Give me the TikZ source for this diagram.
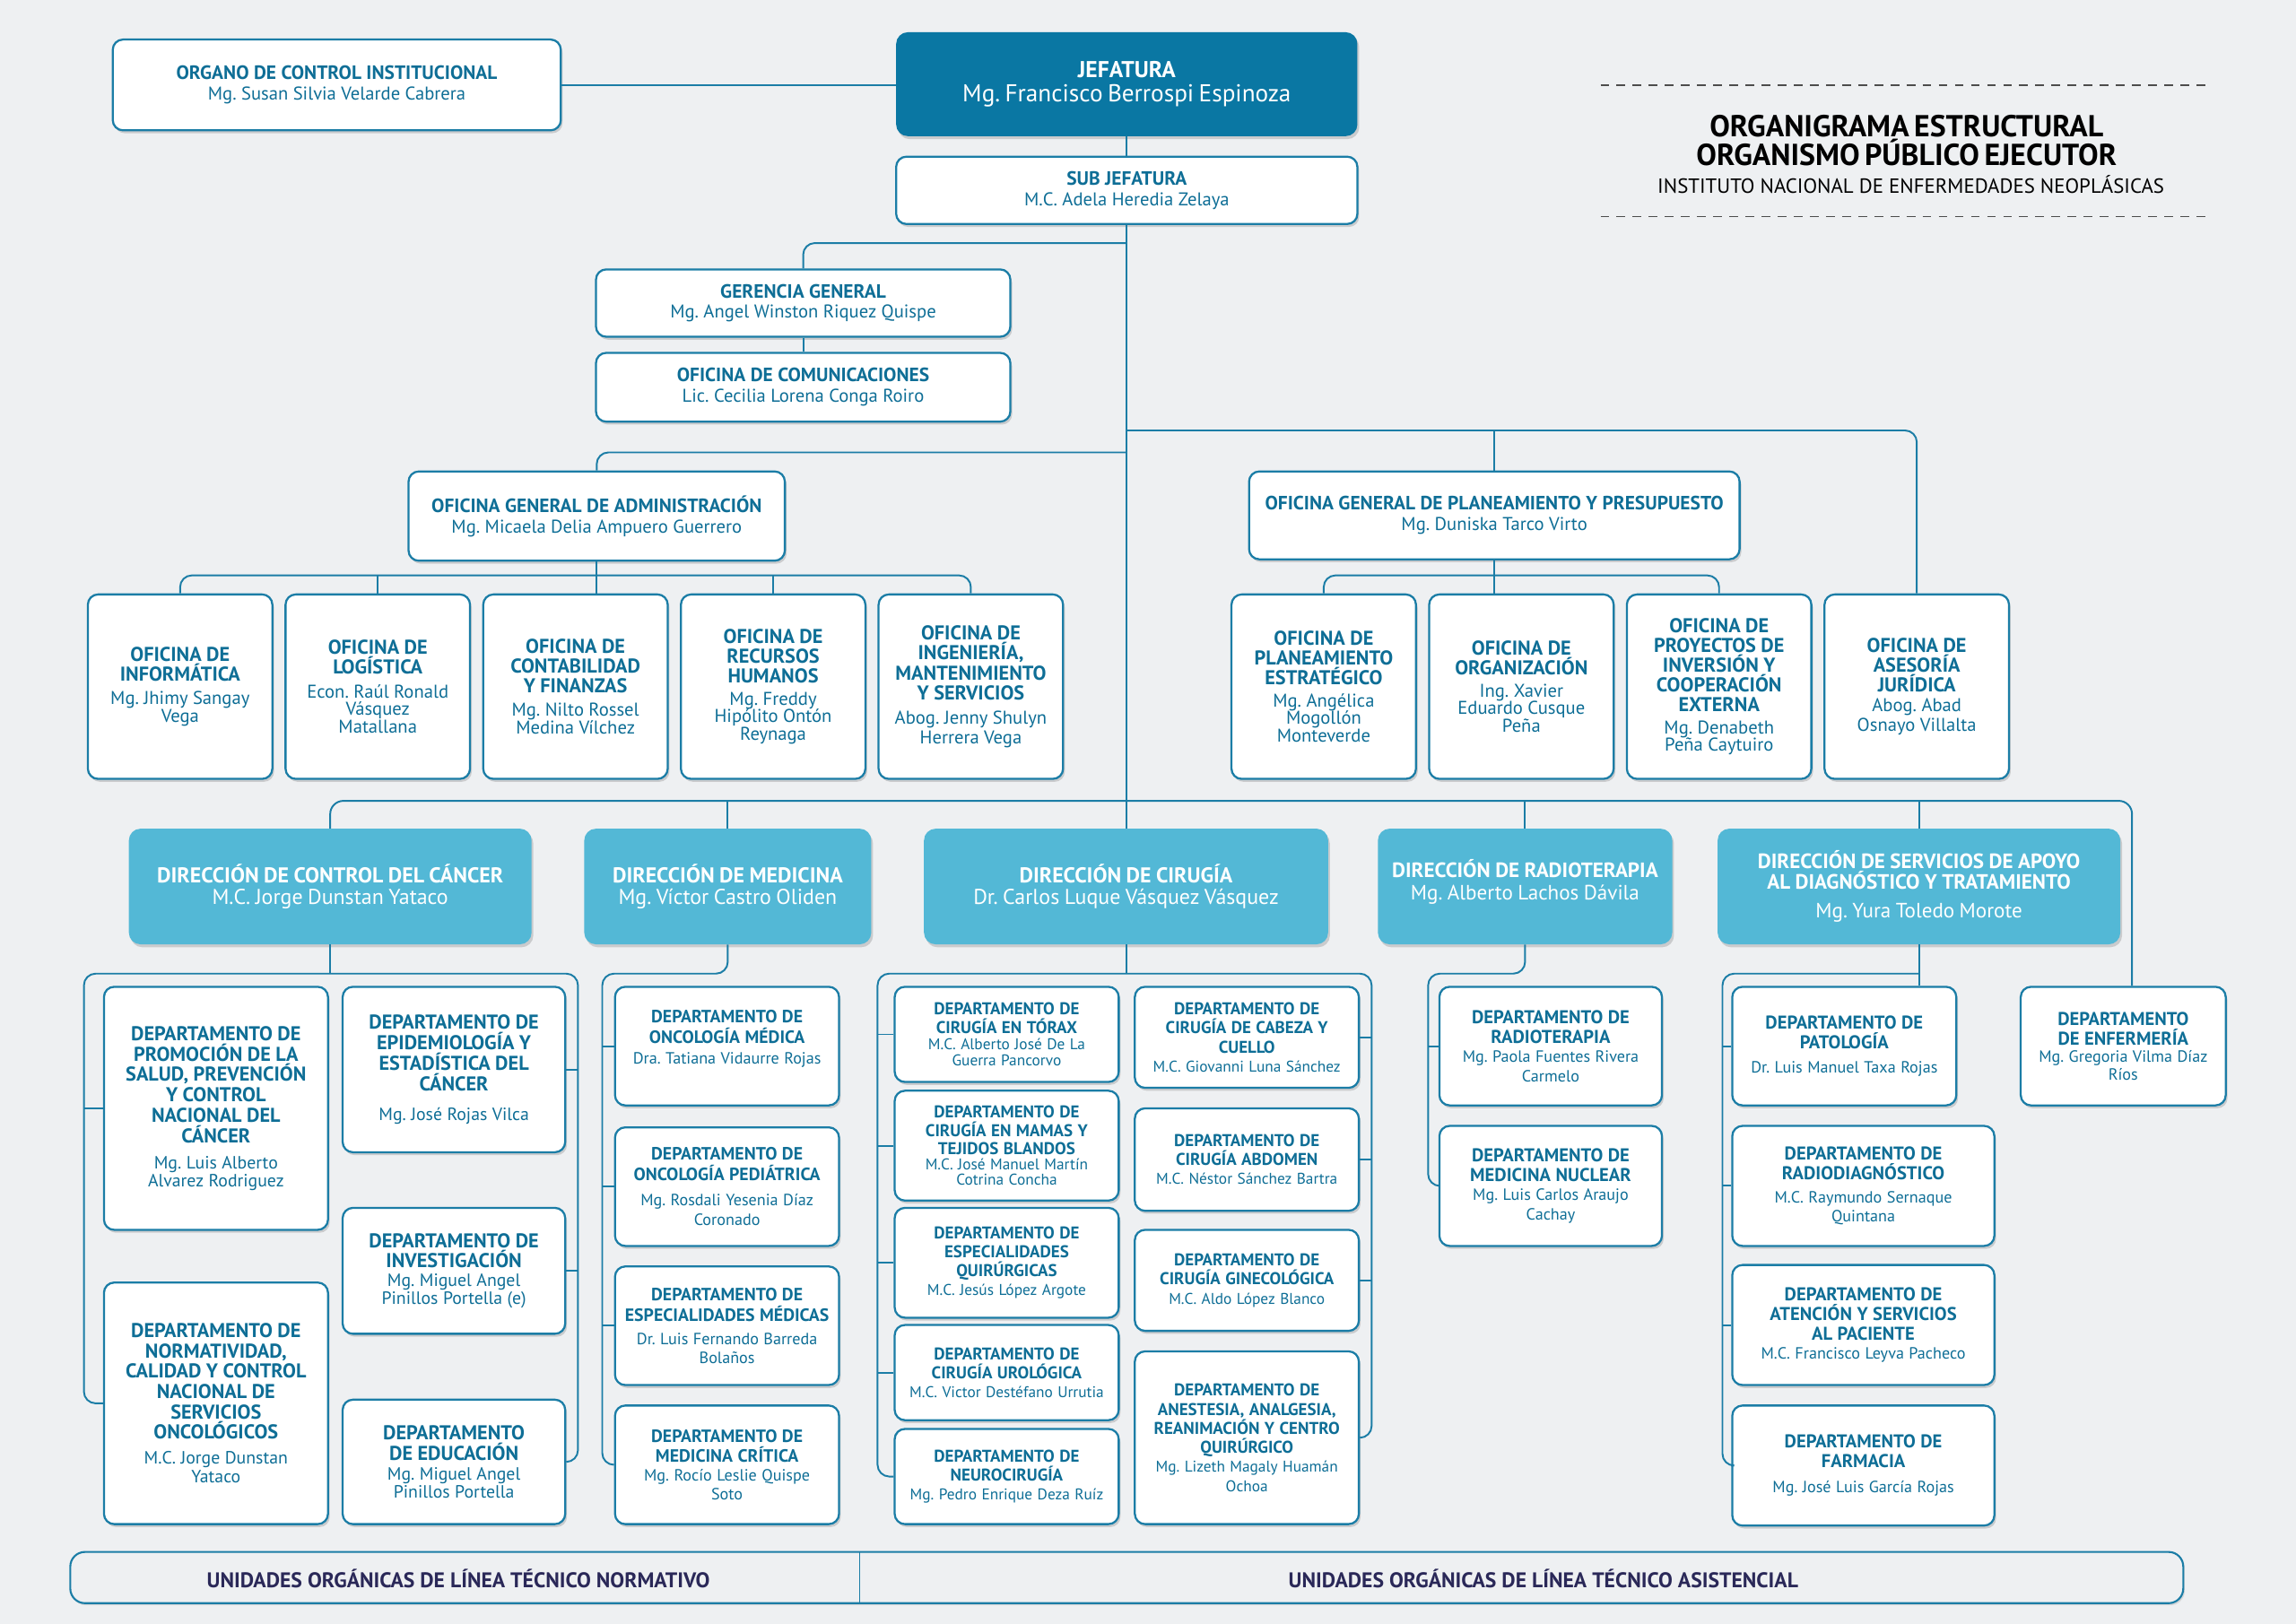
\documentclass[tikz,border=0pt]{standalone}
\usepackage{fontspec}
\setmainfont{PT Sans}
\usetikzlibrary{shadows,calc}
\definecolor{bline}{RGB}{27,125,166}
\definecolor{tblue}{RGB}{14,110,150}
\definecolor{jfill}{RGB}{10,119,163}
\definecolor{dfill}{RGB}{83,184,214}
\definecolor{bandtxt}{RGB}{42,40,88}
\definecolor{bgc}{RGB}{238,240,242}
\def\tsc{1.01}
\newcommand\Ttl[3]{{\pgfmathsetmacro\tmpS{#1*\tsc}\fontsize{\tmpS}{#2}\selectfont\bfseries #3\par}}
\newcommand\Nme[3]{{\pgfmathsetmacro\tmpS{#1*\tsc}\fontsize{\tmpS}{#2}\selectfont #3\par}}
\newcommand\orgbox[7]{%
 \pgfmathsetmacro\ubW{(#5)-(#3)}%
 \pgfmathsetmacro\ubH{(#6)-(#4)}%
 \pgfmathsetmacro\ubX{((#3)+(#5))/2}%
 \pgfmathsetmacro\ubY{((#4)+(#6))/2}%
 \pgfmathsetmacro\ubT{\ubW-6}%
 \node[#1, minimum width=\ubW pt, minimum height=\ubH pt, text width=\ubT pt] (#2) at (\ubX,\ubY) {#7};}
\tikzset{
 conn/.style={draw=bline,line width=1.2pt},
 shad/.style={drop shadow={shadow xshift=1.2pt,shadow yshift=-2pt,opacity=0.22,fill=black!70}},
 wbox/.style={draw=bline,line width=1.4pt,fill=white,rounded corners=7pt,shad,text=tblue,align=center,inner sep=0pt},
 dbox/.style={fill=dfill,rounded corners=8pt,shad,text=white,align=center,inner sep=0pt},
 jbox/.style={fill=jfill,rounded corners=8pt,shad,text=white,align=center,inner sep=0pt},
}
\frenchspacing
\begin{document}
\frenchspacing
\begin{tikzpicture}[x=1pt,y=-1pt]
\fill[bgc] (0,0) rectangle (1568,1109);
\useasboundingbox (0,0) rectangle (1568,1109);

% title block
\draw[dash pattern=on 6pt off 5pt,line width=1pt,black!70] (1093,58) -- (1510,58);
\draw[dash pattern=on 6pt off 5pt,line width=1pt,black!70] (1093,148) -- (1510,148);
\node[align=center,inner sep=0pt,text width=400pt] (ttl) at (1302,96) {\Ttl{20.5}{16.5}{ORGANIGRAMA ESTRUCTURAL\\ORGANISMO PÚBLICO EJECUTOR}};
\node[inner sep=0pt,font=\fontsize{14}{16}\selectfont] (inst) at (1305,126) {INSTITUTO NACIONAL DE ENFERMEDADES NEOPLÁSICAS};

% top
\orgbox{wbox}{organo}{77}{27}{383}{89}{\Ttl{13}{14}{ORGANO DE CONTROL INSTITUCIONAL}\Nme{12.5}{14}{Mg. Susan Silvia Velarde Cabrera}}
\orgbox{jbox}{jef}{612}{22}{927}{93}{\Ttl{15.5}{17}{JEFATURA}\Nme{16.5}{17}{Mg. Francisco Berrospi Espinoza}}
\orgbox{wbox}{sub}{612}{107}{927}{153}{\Ttl{13}{14}{SUB JEFATURA}\Nme{12.5}{14}{M.C. Adela Heredia Zelaya}}
\orgbox{wbox}{ger}{407}{184}{690}{230}{\Ttl{13}{14}{GERENCIA GENERAL}\Nme{12.5}{14}{Mg. Angel Winston Riquez Quispe}}
\orgbox{wbox}{com}{407}{241}{690}{288}{\Ttl{13}{14}{OFICINA DE COMUNICACIONES}\Nme{12.5}{14}{Lic. Cecilia Lorena Conga Roiro}}
\orgbox{wbox}{oga}{279}{322}{536}{383}{\Ttl{13}{14}{OFICINA GENERAL DE ADMINISTRACIÓN}\Nme{12.5}{14}{Mg. Micaela Delia Ampuero Guerrero}}
\orgbox{wbox}{ogpp}{853}{322}{1188}{382}{\Ttl{13}{14}{OFICINA GENERAL DE PLANEAMIENTO Y PRESUPUESTO}\Nme{12.5}{14}{Mg. Duniska Tarco Virto}}

% offices
\orgbox{wbox}{inf}{60}{406}{186}{532}{\Ttl{13.5}{13.5}{OFICINA DE\\INFORMÁTICA}\vspace{4pt}\Nme{12.5}{12}{Mg. Jhimy Sangay\\Vega}}
\orgbox{wbox}{log}{195}{406}{321}{532}{\Ttl{13.5}{13.5}{OFICINA DE\\LOGÍSTICA}\vspace{4pt}\Nme{12.5}{12}{Econ. Raúl Ronald\\Vásquez\\Matallana}}
\orgbox{wbox}{con}{330}{406}{456}{532}{\Ttl{13.5}{13.5}{OFICINA DE\\CONTABILIDAD\\Y FINANZAS}\vspace{4pt}\Nme{12.5}{12}{Mg. Nilto Rossel\\Medina Vílchez}}
\orgbox{wbox}{rrhh}{465}{406}{591}{532}{\Ttl{13.5}{13.5}{OFICINA DE\\RECURSOS\\HUMANOS}\vspace{3pt}\Nme{12.5}{12}{Mg. Freddy\\Hipólito Ontón\\Reynaga}}
\orgbox{wbox}{ing}{600}{406}{726}{532}{\Ttl{13.5}{13.5}{OFICINA DE\\INGENIERÍA,\\MANTENIMIENTO\\Y SERVICIOS}\vspace{3pt}\Nme{12.5}{13.5}{Abog. Jenny Shulyn\\Herrera Vega}}
\orgbox{wbox}{pla}{841}{406}{967}{532}{\Ttl{13.5}{13.5}{OFICINA DE\\PLANEAMIENTO\\ESTRATÉGICO}\vspace{3pt}\Nme{12.5}{12}{Mg. Angélica\\Mogollón\\Monteverde}}
\orgbox{wbox}{org}{976}{406}{1102}{532}{\Ttl{13.5}{13.5}{OFICINA DE\\ORGANIZACIÓN}\vspace{3pt}\Nme{12.5}{12}{Ing. Xavier\\Eduardo Cusque\\Peña}}
\orgbox{wbox}{pro}{1111}{406}{1237}{532}{\Ttl{13.5}{13.5}{OFICINA DE\\PROYECTOS DE\\INVERSIÓN Y\\COOPERACIÓN\\EXTERNA}\vspace{3pt}\Nme{12.5}{12}{Mg. Denabeth\\Peña Caytuiro}}
\orgbox{wbox}{ase}{1246}{406}{1372}{532}{\Ttl{13.5}{13.5}{OFICINA DE\\ASESORÍA\\JURÍDICA}\Nme{12.5}{13.5}{Abog. Abad\\Osnayo Villalta}}

% direcciones
\orgbox{dbox}{dcc}{88}{566}{363}{645}{\Ttl{14.5}{15}{DIRECCIÓN DE CONTROL DEL CÁNCER}\Nme{14.5}{15}{M.C. Jorge Dunstan Yataco}}
\orgbox{dbox}{med}{399}{566}{595}{645}{\Ttl{14.5}{15}{DIRECCIÓN DE MEDICINA}\Nme{14.5}{15}{Mg. Víctor Castro Oliden}}
\orgbox{dbox}{cir}{631}{566}{907}{645}{\Ttl{14.5}{15}{DIRECCIÓN DE CIRUGÍA}\Nme{14.5}{15}{Dr. Carlos Luque Vásquez Vásquez}}
\orgbox{dbox}{rad}{941}{566}{1142}{645}{\Ttl{14}{15}{DIRECCIÓN DE RADIOTERAPIA}\Nme{14}{15.5}{Mg. Alberto Lachos Dávila}\vspace{6pt}}
\orgbox{dbox}{sa}{1173}{566}{1448}{645}{\Ttl{14}{14}{DIRECCIÓN DE SERVICIOS DE APOYO\\AL DIAGNÓSTICO Y TRATAMIENTO}\vspace{5pt}\Nme{14}{15}{Mg. Yura Toledo Morote}}

% control del cancer
\orgbox{wbox}{prom}{71}{674}{224}{840}{\Ttl{13.5}{14}{DEPARTAMENTO DE\\PROMOCIÓN DE LA\\SALUD, PREVENCIÓN\\Y CONTROL\\NACIONAL DEL\\CÁNCER}\vspace{5pt}\Nme{12}{12.5}{Mg. Luis Alberto\\Alvarez Rodriguez}}
\orgbox{wbox}{epi}{234}{674}{386}{787}{\Ttl{13.5}{14}{DEPARTAMENTO DE\\EPIDEMIOLOGÍA Y\\ESTADÍSTICA DEL\\CÁNCER}\vspace{8pt}\Nme{12}{12}{Mg. José Rojas Vilca}}
\orgbox{wbox}{inv}{234}{825}{386}{911}{\Ttl{13.5}{14}{DEPARTAMENTO DE\\INVESTIGACIÓN}\Nme{12}{12.5}{Mg. Miguel Angel\\Pinillos Portella (e)}}
\orgbox{wbox}{norm}{71}{876}{224}{1041}{\Ttl{13.5}{13.8}{DEPARTAMENTO DE\\NORMATIVIDAD,\\CALIDAD Y CONTROL\\NACIONAL DE\\SERVICIOS\\ONCOLÓGICOS}\vspace{4pt}\Nme{12}{13}{M.C. Jorge Dunstan\\Yataco}}
\orgbox{wbox}{edu}{234}{956}{386}{1041}{\Ttl{13.5}{14}{DEPARTAMENTO\\DE EDUCACIÓN}\vspace{1pt}\Nme{12}{12.5}{Mg. Miguel Angel\\Pinillos Portella}}

% medicina
\orgbox{wbox}{onm}{420}{674}{573}{755}{\Ttl{12}{14}{DEPARTAMENTO DE\\ONCOLOGÍA MÉDICA}\Nme{11}{14}{Dra. Tatiana Vidaurre Rojas}\vspace{10pt}}
\orgbox{wbox}{onp}{420}{770}{573}{851}{\Ttl{12}{14}{DEPARTAMENTO DE\\ONCOLOGÍA PEDIÁTRICA}\vspace{3pt}\Nme{11}{14}{Mg. Rosdali Yesenia Díaz\\Coronado}}
\orgbox{wbox}{esm}{420}{865}{573}{946}{\Ttl{12}{14}{DEPARTAMENTO DE\\ESPECIALIDADES MÉDICAS}\vspace{3pt}\Nme{11}{13}{Dr. Luis Fernando Barreda\\Bolaños}}
\orgbox{wbox}{crit}{420}{960}{573}{1041}{\Ttl{12}{13.5}{DEPARTAMENTO DE\\MEDICINA CRÍTICA}\Nme{11}{13}{Mg. Rocío Leslie Quispe\\Soto}}

% cirugia
\orgbox{wbox}{tor}{611}{674}{764}{739}{\Ttl{11.5}{13}{DEPARTAMENTO DE\\CIRUGÍA EN TÓRAX}\Nme{10.5}{11}{M.C. Alberto José De La\\Guerra Pancorvo}}
\orgbox{wbox}{mam}{611}{745}{764}{820}{\Ttl{11.5}{12.5}{DEPARTAMENTO DE\\CIRUGÍA EN MAMAS Y\\TEJIDOS BLANDOS}\Nme{10.5}{10.5}{M.C. José Manuel Martín\\Cotrina Concha}}
\orgbox{wbox}{esq}{611}{825}{764}{900}{\Ttl{11.5}{13}{DEPARTAMENTO DE\\ESPECIALIDADES\\QUIRÚRGICAS}\Nme{10.5}{13}{M.C. Jesús López Argote}}
\orgbox{wbox}{uro}{611}{905}{764}{970}{\Ttl{11.5}{13}{DEPARTAMENTO DE\\CIRUGÍA UROLÓGICA}\Nme{10.5}{13}{M.C. Victor Destéfano Urrutia}}
\orgbox{wbox}{neu}{611}{976}{764}{1041}{\Ttl{11.5}{13}{DEPARTAMENTO DE\\NEUROCIRUGÍA}\Nme{10.5}{13}{Mg. Pedro Enrique Deza Ruíz}}
\orgbox{wbox}{cab}{775}{674}{928}{743}{\Ttl{11.5}{13}{DEPARTAMENTO DE\\CIRUGÍA DE CABEZA Y\\CUELLO}\Nme{10.5}{13}{M.C. Giovanni Luna Sánchez}}
\orgbox{wbox}{abd}{775}{757}{928}{827}{\Ttl{11.5}{13}{DEPARTAMENTO DE\\CIRUGÍA ABDOMEN}\Nme{10.5}{13}{M.C. Néstor Sánchez Bartra}}
\orgbox{wbox}{gin}{775}{840}{928}{909}{\Ttl{11.5}{13}{DEPARTAMENTO DE\\CIRUGÍA GINECOLÓGICA}\Nme{10.5}{13}{M.C. Aldo López Blanco}}
\orgbox{wbox}{ane}{775}{923}{928}{1041}{\Ttl{11.5}{13}{DEPARTAMENTO DE\\ANESTESIA, ANALGESIA,\\REANIMACIÓN Y CENTRO\\QUIRÚRGICO}\Nme{10.5}{13}{Mg. Lizeth Magaly Huamán\\Ochoa}}

% radioterapia
\orgbox{wbox}{rdt}{983}{674}{1135}{755}{\Ttl{12.5}{13.5}{DEPARTAMENTO DE\\RADIOTERAPIA}\Nme{11}{13}{Mg. Paola Fuentes Rivera\\Carmelo}}
\orgbox{wbox}{nuc}{983}{769}{1135}{851}{\Ttl{12.5}{13.5}{DEPARTAMENTO DE\\MEDICINA NUCLEAR}\Nme{11}{13}{Mg. Luis Carlos Araujo\\Cachay}}

% servicios de apoyo
\orgbox{wbox}{pat}{1183}{674}{1336}{755}{\Ttl{12.5}{13.5}{DEPARTAMENTO DE\\PATOLOGÍA}\vspace{3pt}\Nme{11}{13}{Dr. Luis Manuel Taxa Rojas}}
\orgbox{wbox}{rdx}{1183}{769}{1362}{851}{\Ttl{12.5}{13.5}{DEPARTAMENTO DE\\RADIODIAGNÓSTICO}\vspace{3pt}\Nme{11}{13}{M.C. Raymundo Sernaque\\Quintana}}
\orgbox{wbox}{ate}{1183}{864}{1362}{946}{\Ttl{12.5}{13.5}{DEPARTAMENTO DE\\ATENCIÓN Y SERVICIOS\\AL PACIENTE}\Nme{11}{13}{M.C. Francisco Leyva Pacheco}}
\orgbox{wbox}{far}{1183}{960}{1362}{1042}{\Ttl{12.5}{13.5}{DEPARTAMENTO DE\\FARMACIA}\vspace{4pt}\Nme{11}{13}{Mg. José Luis García Rojas}}
\orgbox{wbox}{enf}{1380}{674}{1520}{755}{\Ttl{12.5}{13.5}{DEPARTAMENTO\\DE ENFERMERÍA}\Nme{11}{12}{Mg. Gregoria Vilma Díaz\\Ríos}}

% ---------- connectors ----------
\coordinate (g0) at (769.5,166);
\coordinate (a0) at (769.5,309);
\coordinate (p0) at (769.5,294);
\coordinate (ab) at (0,393);
\coordinate (db) at (0,547);
\coordinate (gy) at (0,665);
\coordinate (enfT) at ([xshift=6pt]enf.north);

\draw[conn] (organo.east) -- (organo.east -| jef.west);
\draw[conn] (jef.south) -- (sub.north);
\draw[conn] (sub.south) -- (sub.south |- cir.north);
\draw[conn,rounded corners=8pt] (g0) -| (ger.north);
\draw[conn] (ger.south) -- (com.north);
\draw[conn,rounded corners=8pt] (a0) -| (oga.north);
\draw[conn,rounded corners=8pt] (p0) -| (ase.north);
\draw[conn] (ogpp.north |- p0) -- (ogpp.north);

% admin offices
\draw[conn,rounded corners=8pt] (inf.north) |- (ing.north |- ab) -- (ing.north);
\draw[conn] (log.north) -- (log.north |- ab);
\draw[conn] (rrhh.north) -- (rrhh.north |- ab);
\draw[conn] (oga.south) -- (oga.south |- con.north);
% planning offices
\draw[conn,rounded corners=8pt] (pla.north) |- (pro.north |- ab) -- (pro.north);
\draw[conn] (ogpp.south) -- (ogpp.south |- org.north);

% direction bus
\draw[conn,rounded corners=9pt] (dcc.north) |- (enfT |- db) -- (enfT);
\draw[conn] (med.north) -- (med.north |- db);
\draw[conn] (rad.north) -- (rad.north |- db);
\draw[conn] (sa.north) -- (sa.north |- db);

% control del cancer group
\coordinate (dR) at ([xshift=8pt]edu.east);
\draw[conn] (dcc.south) -- (dcc.south |- gy);
\draw[conn,rounded corners=8pt] (norm.west) -- ++(-13,0) |- (dR |- gy) -- (dR) -- (edu.east);
\draw[conn] (prom.west) -- ++(-13,0);
\draw[conn] (epi.east) -- ++(8,0);
\draw[conn] (inv.east) -- ++(8,0);

% medicina group
\coordinate (mL) at ([xshift=-8pt]crit.west);
\draw[conn,rounded corners=8pt] (med.south) |- (mL |- gy) -- (mL) -- (crit.west);
\draw[conn] (onm.west) -- ++(-8,0);
\draw[conn] (onp.west) -- ++(-8,0);
\draw[conn] (esm.west) -- ++(-8,0);

% cirugia group
\coordinate (cR) at ([xshift=8pt]ane.east);
\draw[conn] (cir.south) -- (cir.south |- gy);
\draw[conn,rounded corners=8pt] (neu.west) -- ++(-11,0) |- (cR |- gy) -- (cR) -- (ane.east);
\draw[conn] (tor.west) -- ++(-11,0);
\draw[conn] (mam.west) -- ++(-11,0);
\draw[conn] (esq.west) -- ++(-11,0);
\draw[conn] (uro.west) -- ++(-11,0);
\draw[conn] (cab.east) -- ++(8,0);
\draw[conn] (abd.east) -- ++(8,0);
\draw[conn] (gin.east) -- ++(8,0);

% radioterapia group
\coordinate (rL) at ([xshift=-7pt]nuc.west);
\draw[conn,rounded corners=8pt] (rad.south) |- (rL |- gy) -- (rL) -- (nuc.west);
\draw[conn] (rdt.west) -- ++(-7,0);

% servicios de apoyo group
\coordinate (sL) at ([xshift=-6pt]far.west);
\draw[conn] (sa.south) -- (sa.south |- pat.north);
\draw[conn,rounded corners=8pt] (sa.south |- gy) -- (sL |- gy) -- (sL) -- (far.west);
\draw[conn] (pat.west) -- ++(-6,0);
\draw[conn] (rdx.west) -- ++(-6,0);
\draw[conn] (ate.west) -- ++(-6,0);

% bottom band
\draw[draw=bline,fill=bgc,line width=1.3pt,rounded corners=10pt,drop shadow={shadow xshift=1pt,shadow yshift=-1.5pt,opacity=0.15,fill=black!70}] (48,1060) rectangle (1491,1095);
\draw[draw=bline,line width=1pt] (587,1060) -- (587,1095);
\node[inner sep=0pt,text=bandtxt,font=\fontsize{14.5}{17}\selectfont\bfseries] (bandL) at (313,1078) {UNIDADES ORGÁNICAS DE LÍNEA TÉCNICO NORMATIVO};
\node[inner sep=0pt,text=bandtxt,font=\fontsize{14.5}{17}\selectfont\bfseries] (bandR) at (1054,1078) {UNIDADES ORGÁNICAS DE LÍNEA TÉCNICO ASISTENCIAL};
\end{tikzpicture}
\end{document}
